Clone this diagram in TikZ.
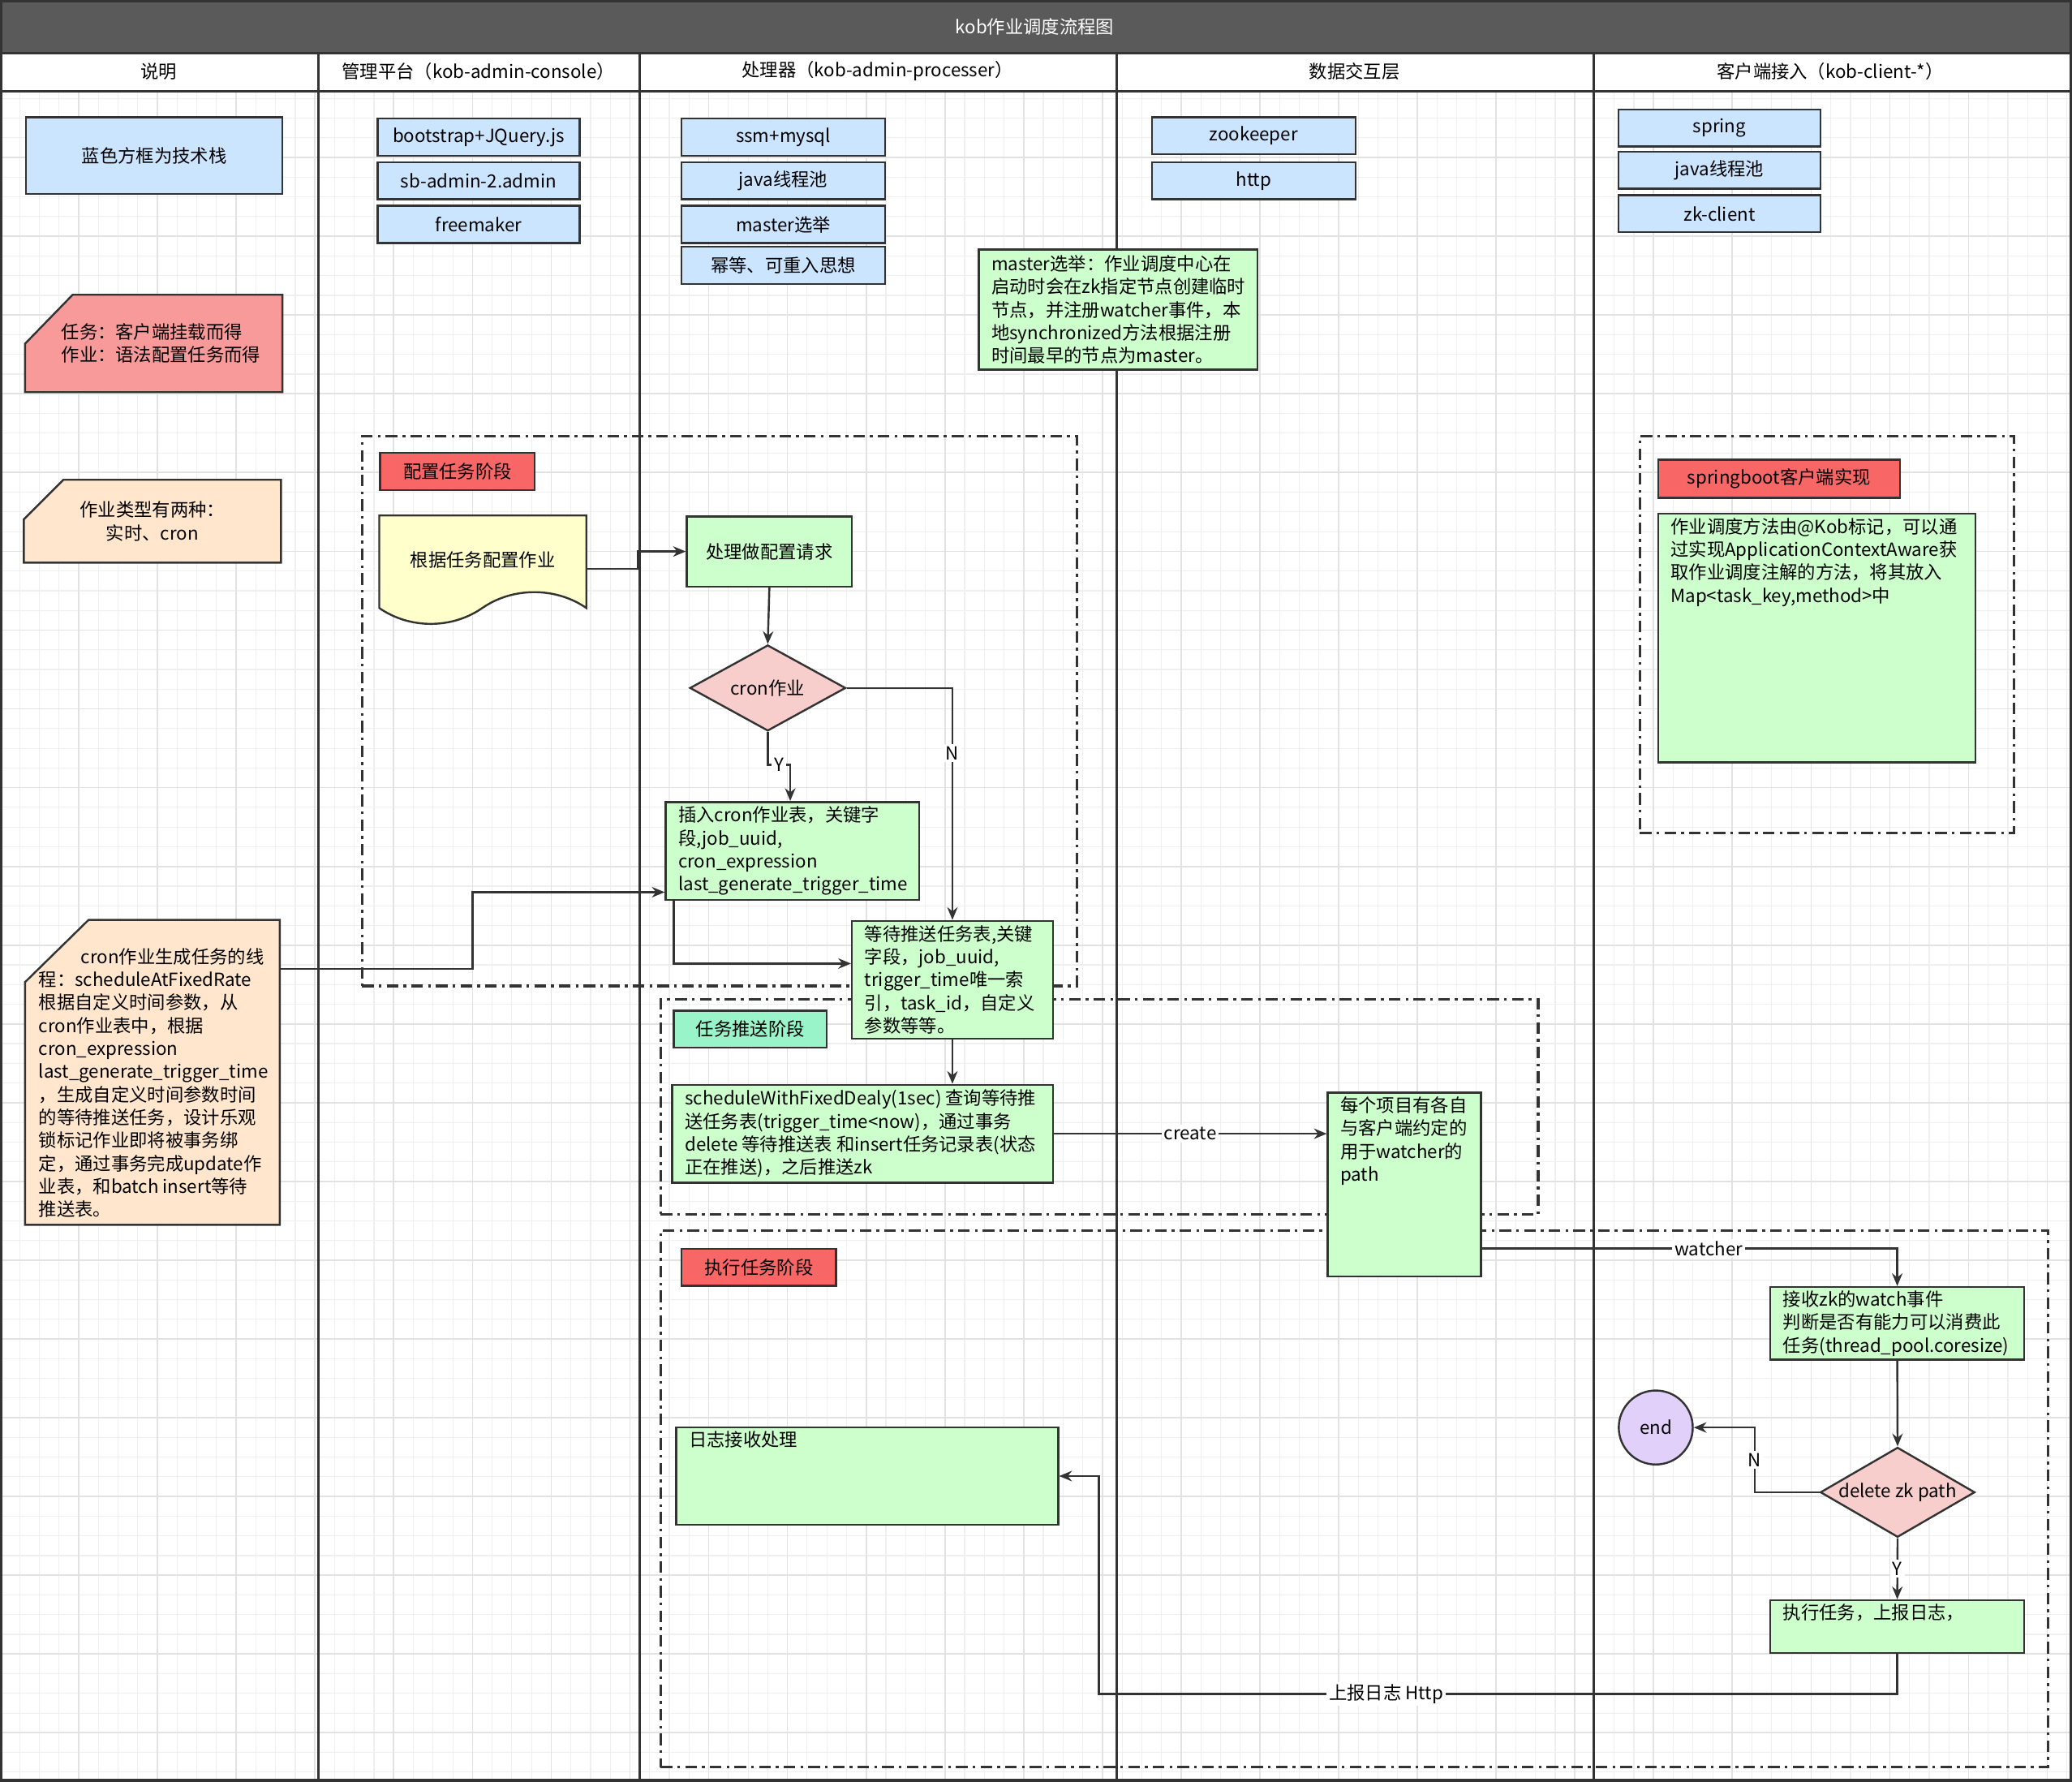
\documentclass[tikz,border=0pt]{standalone}
\usepackage{fontspec}
\setmainfont{Noto Sans CJK SC}
\usetikzlibrary{arrows.meta,shapes.geometric,calc}
\pgfdeclarelayer{bg}
\pgfdeclarelayer{mid}
\pgfsetlayers{bg,mid,main}
\definecolor{bluef}{HTML}{CCE5FF}
\definecolor{greenf}{HTML}{CCFFCC}
\definecolor{pinkf}{HTML}{F8CECC}
\definecolor{redl}{HTML}{F86666}
\definecolor{redc}{HTML}{F99A9A}
\definecolor{peach}{HTML}{FFE6CC}
\definecolor{yellowf}{HTML}{FFFFCC}
\definecolor{mint}{HTML}{99F5C9}
\definecolor{purp}{HTML}{E1D0FA}
\definecolor{edge}{HTML}{333333}
\definecolor{titlebg}{HTML}{5A5A5A}
\definecolor{gmin}{HTML}{EFEFEF}
\definecolor{gmaj}{HTML}{E2E2E2}
\newcommand\nb[7]{\node[#1, anchor=north west, minimum width={(#5-#3)*0.02cm}, minimum height={(#6-#4)*0.02cm}] (#2) at (#3,#4) {#7};}
\begin{document}
\begin{tikzpicture}[x=0.02cm,y=-0.02cm, font=\fontsize{7.8}{9.9}\selectfont,
  base/.style={draw=edge, line width=0.85pt, inner sep=0pt, align=center},
  blue/.style={base, fill=bluef},
  green/.style={base, fill=greenf},
  redlab/.style={base, fill=redl},
  mintlab/.style={base, fill=mint},
  ghost/.style={inner sep=0pt, align=center},
  lab/.style={inner sep=0pt, align=left, font=\fontsize{7.8}{9.9}\selectfont},
  lw/.style={label={[lab, anchor=west, xshift=0.2cm]west:{#1}}},
  ln/.style={label={[lab, anchor=north west, xshift=0.2cm, yshift=-0.07cm]north west:{#1}}},
  arr/.style={draw=edge, line width=0.85pt, -{Stealth[length=5.5pt,width=4.5pt]}},
  elab/.style={fill=white, inner sep=1pt, font=\fontsize{7.8}{9.9}\selectfont},
  frame/.style={draw=edge, line width=1.1pt, inner sep=0pt, dash pattern=on 5pt off 2.2pt on 1.2pt off 2.2pt},
  lane/.style={draw=edge, line width=1.1pt},
  card/.style={draw=edge, line width=0.85pt},
]
\useasboundingbox (0,0) rectangle (1568,1348);
\begin{pgfonlayer}{bg}
  \draw[gmin, line width=0.4pt, step=0.298cm] (0,69) grid (1568,1348);
  \draw[gmaj, line width=0.6pt, step=1.192cm] (0,69) grid (1568,1348);
  \fill[titlebg] (0,0) rectangle (1568,40);
  \fill[white] (0,40) rectangle (1568,69);
  \draw[lane] (0,40) -- (1568,40);
  \draw[lane] (0,69) -- (1568,69);
  \foreach \lx in {241,484,845,1206} \draw[lane] (\lx,40) -- (\lx,1348);
  \draw[lane] (1,1) rectangle (1567,1347);
\end{pgfonlayer}

% headers
\node[text=white] (title) at (783,20) {kob作业调度流程图};
\node (h1) at (120,54) {说明};
\node (h2) at (362,54) {管理平台（kob-admin-console）};
\node (h3) at (664,54) {处理器（kob-admin-processer）};
\node (h4) at (1025,54) {数据交互层};
\node (h5) at (1385,54) {客户端接入（kob-client-*）};

% frames
\nb{frame}{fr1}{273}{329}{814}{745}{}
\nb{frame}{fr2}{499}{755}{1163}{918}{}
\nb{frame}{fr3}{499}{930}{1549}{1336}{}
\nb{frame}{fr4}{1240}{329}{1523}{629}{}

% legend column
\nb{blue}{legblue}{19}{88}{213}{146}{蓝色方框为技术栈}
\nb{ghost, align=left}{legtask}{19}{223}{213}{296}{\hspace*{0.22cm}任务：客户端挂载而得\\\hspace*{0.22cm}作业：语法配置任务而得}
\nb{ghost}{legtype}{18}{363}{212}{425}{作业类型有两种：\\实时、cron}
\nb{ghost, label={[lab, anchor=north west, xshift=0.2cm, yshift=-0.42cm]north west:{\hspace*{0.64cm}cron作业生成任务的线\\程：scheduleAtFixedRate\\根据自定义时间参数，从\\cron作业表中，根据\\cron\_expression\\last\_generate\_trigger\_time\\，生成自定义时间参数时间\\的等待推送任务，设计乐观\\锁标记作业即将被事务绑\\定，通过事务完成update作\\业表，和batch insert等待\\推送表。}}}{cronnote}{19}{696}{211}{926}{}
\begin{pgfonlayer}{mid}
  \draw[card, fill=redc] ($(legtask.north west)+(36,0)$) -- (legtask.north east) -- (legtask.south east) -- (legtask.south west) -- ($(legtask.north west)+(0,37)$) -- cycle;
  \draw[card, fill=peach] ($(legtype.north west)+(30,0)$) -- (legtype.north east) -- (legtype.south east) -- (legtype.south west) -- ($(legtype.north west)+(0,30)$) -- cycle;
  \draw[card, fill=peach] ($(cronnote.north west)+(48,0)$) -- (cronnote.north east) -- (cronnote.south east) -- (cronnote.south west) -- ($(cronnote.north west)+(0,47)$) -- cycle;
\end{pgfonlayer}

% tech stacks
\nb{blue}{bs}{285}{89}{438}{117}{bootstrap+JQuery.js}
\nb{blue}{sb}{285}{122}{438}{150}{sb-admin-2.admin}
\nb{blue}{fm}{285}{155}{438}{183}{freemaker}
\nb{blue}{ssm}{515}{89}{669}{117}{ssm+mysql}
\nb{blue}{jtp}{515}{122}{669}{150}{java线程池}
\nb{blue}{mel}{515}{155}{669}{183}{master选举}
\nb{blue}{idem}{515}{186}{669}{214}{幂等、可重入思想}
\nb{blue}{zk}{871}{88}{1025}{116}{zookeeper}
\nb{blue}{http}{871}{122}{1025}{150}{http}
\nb{blue}{spring}{1224}{82}{1377}{110}{spring}
\nb{blue}{cjtp}{1224}{114}{1377}{142}{java线程池}
\nb{blue}{zkc}{1224}{147}{1377}{175}{zk-client}
\nb{green, lw={master选举：作业调度中心在\\启动时会在zk指定节点创建临时\\节点，并注册watcher事件，本\\地synchronized方法根据注册\\时间最早的节点为master。}}{mnote}{740}{188}{951}{279}{}

% stage labels
\nb{redlab}{st1}{287}{342}{404}{370}{配置任务阶段}
\nb{mintlab}{st2}{509}{764}{625}{792}{任务推送阶段}
\nb{redlab}{st3}{515}{944}{632}{972}{执行任务阶段}
\nb{redlab}{st4}{1254}{347}{1437}{376}{springboot客户端实现}

% flow
\nb{ghost, text depth=0.28cm}{doc}{287}{390}{443}{470}{根据任务配置作业}
\begin{pgfonlayer}{mid}
  \draw[card, fill=yellowf] (doc.north west) -- (doc.north east) -- ($(doc.north east)+(0,70)$) .. controls +(-23,-16) and +(23,-16) .. ($(doc.north west)+(78,70)$) .. controls +(-23,16) and +(23,16) .. ($(doc.north west)+(0,70)$) -- cycle;
\end{pgfonlayer}
\nb{green}{proc}{519}{390}{644}{443}{处理做配置请求}
\node[base, diamond, fill=pinkf, shape aspect=1.8, minimum width=2.36cm, minimum height=1.3cm] (dmd) at (581,520.5) {\makebox[0pt]{cron作业}};
\nb{green, lw={插入cron作业表，关键字\\段,job\_uuid,\\cron\_expression\\last\_generate\_trigger\_time}}{ins}{503}{606}{695}{680}{}
\nb{green, lw={等待推送任务表,关键\\字段，job\_uuid,\\trigger\_time唯一索\\引，task\_id，自定义\\参数等等。}}{wait}{644}{696}{796}{785}{}
\nb{green, lw={scheduleWithFixedDealy(1sec) 查询等待推\\送任务表(trigger\_time<now)，通过事务\\delete 等待推送表 和insert任务记录表(状态\\正在推送)，之后推送zk}}{sched}{508}{820}{796}{894}{}
\nb{green, ln={每个项目有各自\\与客户端约定的\\用于watcher的\\path}}{path}{1004}{826}{1120}{965}{}
\nb{green, ln={作业调度方法由@Kob标记，可以通\\过实现ApplicationContextAware获\\取作业调度注解的方法，将其放入\\Map<task\_key,method>中}}{sbimpl}{1254}{388}{1494}{576}{}
\nb{green, lw={接收zk的watch事件\\判断是否有能力可以消费此\\任务(thread\_pool.coresize)}}{recv}{1339}{973}{1531}{1028}{}
\node[base, diamond, fill=pinkf, shape aspect=1.72, minimum width=2.34cm, minimum height=1.36cm] (dz) at (1436,1129) {\makebox[0pt]{delete zk path}};
\node[base, circle, fill=purp, minimum size=1.12cm] (endc) at (1253,1080) {end};
\nb{green, ln={执行任务，上报日志，}}{exec}{1339}{1210}{1531}{1250}{}
\nb{green, ln={日志接收处理}}{logr}{511}{1079}{800}{1153}{}

% connectors
\draw[arr] (doc.east) -- ++(39,0) |- (proc.west);
\draw[arr] (proc.south) -- (dmd.north);
\draw[arr] (dmd.south) -- ++(0,25) -- node[elab]{Y} ++(17,0) -- ($(ins.north west)+(95,0)$);
\draw[arr] (dmd.east) -| node[elab, pos=0.64]{N} (wait.north);
\draw[arr] ($(ins.south west)+(7,0)$) |- ($(wait.north west)+(0,33)$);
\draw[arr] ($(cronnote.north east)+(0,37)$) -- ++(146,0) |- ($(ins.north west)+(0,69)$);
\draw[arr] (wait.south) -- (wait.south |- sched.north);
\draw[arr] (sched.east) -- node[elab]{create} (sched.east -| path.west);
\draw[arr] ($(path.south east)+(0,-22)$) -| node[elab, pos=0.273]{watcher} (recv.north);
\draw[arr] (recv.south) -- (dz.north);
\draw[arr] (dz.west) -- ++(-49,0) |- node[elab, pos=0.25]{N} (endc.east);
\draw[arr] (dz.south) -- node[elab]{Y} (exec.north);
\coordinate (lc) at ($(logr.east)+(30,0)$);
\draw[arr] (exec.south) -- ++(0,30) -| node[elab, pos=0.32]{上报日志 Http} (lc) -- (logr.east);
\end{tikzpicture}
\end{document}
